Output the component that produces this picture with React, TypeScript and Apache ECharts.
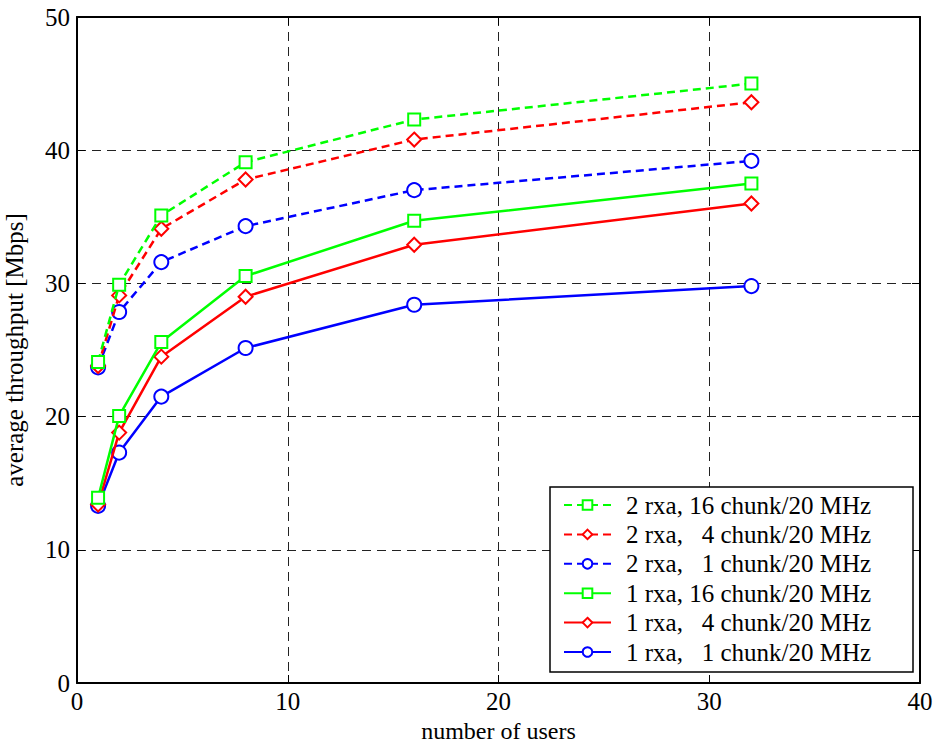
import React, { useEffect, useRef } from "react";
import * as echarts from "echarts";

const users = [1, 2, 4, 8, 16, 32];
const seriesNames = [
  "2 rxa, 16 chunk/20 MHz",
  "2 rxa,   4 chunk/20 MHz",
  "2 rxa,   1 chunk/20 MHz",
  "1 rxa, 16 chunk/20 MHz",
  "1 rxa,   4 chunk/20 MHz",
  "1 rxa,   1 chunk/20 MHz",
];
const rx2c16 = [24.1, 29.9, 35.1, 39.1, 42.3, 45.0];
const rx2c4 = [23.8, 29.1, 34.1, 37.8, 40.8, 43.6];
const rx2c1 = [23.7, 27.85, 31.6, 34.3, 37.0, 39.2];
const rx1c16 = [13.9, 20.05, 25.6, 30.55, 34.7, 37.5];
const rx1c4 = [13.4, 18.8, 24.5, 29.0, 32.9, 36.0];
const rx1c1 = [13.3, 17.3, 21.5, 25.15, 28.4, 29.8];
const seriesValues = [rx2c16, rx2c4, rx2c1, rx1c16, rx1c4, rx1c1];
const colors = ["#00ff00", "#ff0000", "#0000ff", "#00ff00", "#ff0000", "#0000ff"];
const symbols = ["rect", "diamond", "circle", "rect", "diamond", "circle"];
const dashed = [true, true, true, false, false, false];

const FONT = "'Liberation Serif', 'Times New Roman', serif";

export default function App() {
  const ref = useRef<HTMLDivElement>(null);
  useEffect(() => {
    if (!ref.current) return;
    const chart = echarts.init(ref.current, undefined, { renderer: "svg" });
    const axisCommon = {
      axisLine: { show: true, onZero: false, lineStyle: { color: "#000", width: 2 } },
      axisTick: { show: true, inside: true, length: 8, lineStyle: { color: "#000", width: 1 } },
    };
    const gridLine = { show: true, lineStyle: { color: "#222", type: [9, 6], width: 1 } };
    chart.setOption({
      animation: false,
      backgroundColor: "#fff",
      grid: { left: 77, top: 17, right: 14, bottom: 60, containLabel: false, outerBoundsMode: "none" },
      xAxis: [
        {
          type: "value",
          min: 0,
          max: 40,
          interval: 10,
          ...axisCommon,
          axisLabel: { color: "#000", fontFamily: FONT, fontSize: 25, margin: 6 },
          splitLine: gridLine,
          name: "number of users",
          nameLocation: "middle",
          nameGap: 29,
          nameTextStyle: { color: "#000", fontFamily: FONT, fontSize: 24, lineHeight: 24 },
        },
        {
          type: "value",
          position: "top",
          min: 0,
          max: 40,
          interval: 10,
          ...axisCommon,
          axisLabel: { show: false },
          splitLine: { show: false },
        },
      ],
      yAxis: [
        {
          type: "value",
          min: 0,
          max: 50,
          interval: 10,
          ...axisCommon,
          axisLabel: { color: "#000", fontFamily: FONT, fontSize: 25, margin: 7 },
          splitLine: gridLine,
          name: "average throughput [Mbps]",
          nameLocation: "middle",
          nameGap: 51,
          nameTextStyle: { color: "#000", fontFamily: FONT, fontSize: 25, lineHeight: 24 },
        },
        {
          type: "value",
          position: "right",
          min: 0,
          max: 50,
          interval: 10,
          ...axisCommon,
          axisLabel: { show: false },
          splitLine: { show: false },
        },
      ],
      legend: {
        orient: "vertical",
        left: 550,
        top: 487,
        backgroundColor: "#fff",
        borderColor: "#000",
        borderWidth: 1.5,
        borderRadius: 0,
        padding: [5.5, 17, 7.5, 13],
        itemWidth: 47,
        itemHeight: 12,
        itemGap: 4.4,
        textStyle: {
          color: "#000",
          fontFamily: FONT,
          fontSize: 25,
          lineHeight: 25,
          width: 270,
          padding: [0, 0, 0, 10],
        },
        data: seriesNames,
      },
      series: seriesNames.map((name, i) => ({
        name,
        type: "line",
        data: users.map((u, j) => [u, seriesValues[i][j]]),
        symbol: symbols[i],
        symbolSize: symbols[i] === "rect" ? 12 : 14,
        showAllSymbol: true,
        itemStyle: { color: "#fff", borderColor: colors[i], borderWidth: 2 },
        lineStyle: { color: colors[i], width: 2.5, type: dashed[i] ? [8, 5] : "solid" },
        z: 10 - i,
      })),
    });
    return () => chart.dispose();
  }, []);
  return (
    <div
      ref={ref}
      style={{ position: "fixed", left: 0, top: 0, width: 934, height: 743 }}
    />
  );
}
